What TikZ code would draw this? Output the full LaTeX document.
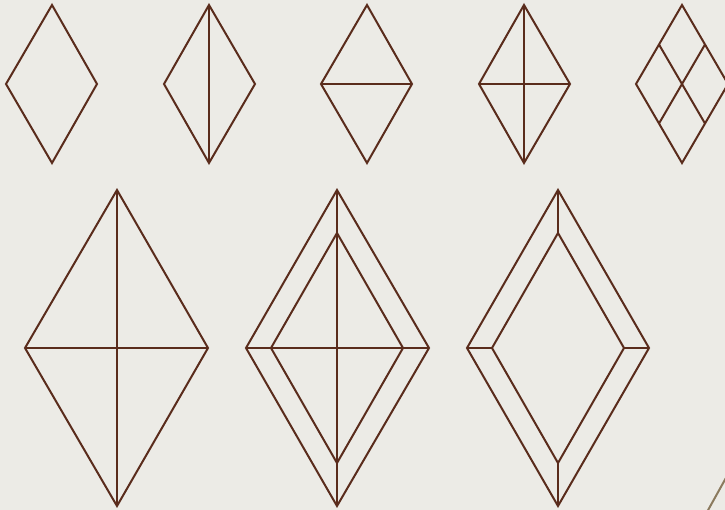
\documentclass[tikz,border=0pt]{standalone}
\definecolor{bg}{HTML}{ECEBE6}
\definecolor{ln}{HTML}{5A2C1C}
\definecolor{ol}{HTML}{8B7A5E}
\begin{document}
\begin{tikzpicture}[x=1pt,y=-1pt,line join=miter,
  edge/.style={draw=ln,line width=2pt}]
\fill[bg] (0,0) rectangle (725,510);
\useasboundingbox (0,0) rectangle (725,510);
\begin{scope}
\clip (0,0) rectangle (725,510);
% top row
\draw[edge] (52,5) -- (97,84) -- (52,163) -- (6,84) -- cycle;
\draw[edge] (209,5) -- (255,84) -- (209,163) -- (164,84) -- cycle;
\draw[edge] (209,5) -- (209,163);
\draw[edge] (367,5) -- (412,84) -- (367,163) -- (321,84) -- cycle;
\draw[edge] (321,84) -- (412,84);
\draw[edge] (524,5) -- (570,84) -- (524,163) -- (479,84) -- cycle;
\draw[edge] (524,5) -- (524,163);
\draw[edge] (479,84) -- (570,84);
\draw[edge] (682,5) -- (728,84) -- (682,163) -- (636,84) -- cycle;
\draw[edge] (659,44.5) -- (705,123.5);
\draw[edge] (705,44.5) -- (659,123.5);
% bottom row
\draw[edge] (117,190) -- (208,348) -- (117,506) -- (25,348) -- cycle;
\draw[edge] (117,190) -- (117,506);
\draw[edge] (25,348) -- (208,348);
\draw[edge] (337,190) -- (429,348) -- (337,506) -- (246,348) -- cycle;
\draw[edge] (337,233) -- (403,348) -- (337,463) -- (271,348) -- cycle;
\draw[edge] (337,190) -- (337,506);
\draw[edge] (246,348) -- (429,348);
\draw[edge] (558,190) -- (649,348) -- (558,506) -- (467,348) -- cycle;
\draw[edge] (558,233) -- (624,348) -- (558,463) -- (492,348) -- cycle;
\draw[edge] (558,190) -- (558,233);
\draw[edge] (558,463) -- (558,506);
\draw[edge] (467,348) -- (492,348);
\draw[edge] (624,348) -- (649,348);
\draw[draw=ol,line width=2pt] (707,512) -- (727,476);
\end{scope}
\end{tikzpicture}
\end{document}
